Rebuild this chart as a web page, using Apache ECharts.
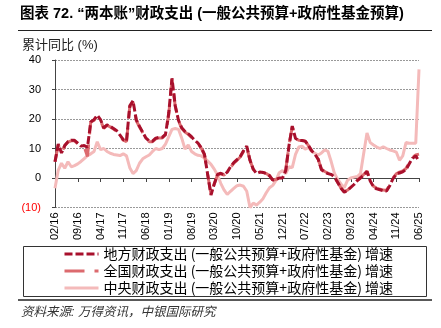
<!DOCTYPE html>
<html><head><meta charset="utf-8">
<script src="https://cdn.jsdelivr.net/npm/echarts@6/dist/echarts.min.js"></script>
<style>html,body{margin:0;padding:0;background:#fff}#c{width:441px;height:328px}</style>
</head><body><div id="c"></div>
<script>
const categories = [
 '02/16','03/16','04/16','05/16','06/16','07/16','08/16','09/16','10/16','11/16','12/16',
 '01/17','02/17','03/17','04/17','05/17','06/17','07/17','08/17','09/17','10/17','11/17','12/17',
 '01/18','02/18','03/18','04/18','05/18','06/18','07/18','08/18','09/18','10/18','11/18','12/18',
 '01/19','02/19','03/19','04/19','05/19','06/19','07/19','08/19','09/19','10/19','11/19','12/19',
 '01/20','02/20','03/20','04/20','05/20','06/20','07/20','08/20','09/20','10/20','11/20','12/20',
 '01/21','02/21','03/21','04/21','05/21','06/21','07/21','08/21','09/21','10/21','11/21','12/21',
 '01/22','02/22','03/22','04/22','05/22','06/22','07/22','08/22','09/22','10/22','11/22','12/22',
 '01/23','02/23','03/23','04/23','05/23','06/23','07/23','08/23','09/23','10/23','11/23','12/23',
 '01/24','02/24','03/24','04/24','05/24','06/24','07/24','08/24','09/24','10/24','11/24','12/24',
 '01/25','02/25','03/25','04/25','05/25','06/25'
];
const localSpend = [
 5.5, 11.5, 8.5, 11, 12.3, 12.8, 12.8, 11.8, 10.8, 11, 10.5,
 19, 19.8, 21.3, 19.8, 17, 18, 17.5, 16.8, 16, 14.5, 13, 12.5,
 24.5, 26.2, 19.8, 17.5, 15.5, 13.5, 12.5, 12.5, 13.5, 13.8, 13.8, 14.8,
 22, 33.8, 24.5, 19.5, 17, 15.8, 15, 14, 12.8, 11.8, 10.3, 8,
 1, -5.8, -2, 1.2, 1.6, 1.1, 2, 3.8, 5.2, 6.2, 7.3, 9.2,
 10.8, 6, 3, 1.5, 2, 1.9, 1.5, 0.8, -0.7, -0.5, 0, 0,
 2.5, 11, 17.6, 13.4, 12.8, 12.7, 12.5, 11, 9.2, 8, 6.3, 2.8,
 2, 1.5, 1.2, 0.3, -1.5, -3.5, -4.8, -4.2, -3.2, -2.2, -0.9, 0,
 1, 2.2, -1, -3, -3.7, -4, -4.3, -4.4, -2.6, -0.2, 1.2, 1.7,
 2.1, 2.8, 4.8, 6.7, 7.5, 5.6
];
const nationalSpend = [
 5.5, 11.3, 8.5, 11, 12.2, 12.6, 12.6, 11.6, 10.6, 10.5, 7.3,
 19, 19.5, 21, 19.5, 16.8, 17.8, 17.3, 16.6, 15.8, 14.3, 12.8, 12.3,
 24, 25.8, 19.5, 17.3, 15.3, 13.3, 12.3, 12.3, 13.3, 13.6, 13.6, 14.6,
 21.5, 33.5, 24.3, 19.3, 16.8, 15.6, 14.8, 13.8, 12.6, 11.6, 10.1, 7.8,
 1, -5.5, -2, 1, 1.4, 1, 1.8, 3.6, 5, 6, 7.1, 9,
 10.6, 6, 3, 1.5, 2, 1.9, 1.5, 0.8, -0.7, -0.5, 0, 0.2,
 2.8, 11, 17.4, 13.4, 12.8, 12.7, 12.5, 11, 9.2, 8, 6.3, 3,
 2.2, 1.6, 1.2, 0.3, -1.5, -3.4, -4.6, -4.1, -3.1, -2.1, -0.8, 0.2,
 1.2, 2.4, -0.8, -2.8, -3.5, -3.8, -4.1, -4.2, -2.4, 0, 1.4, 2,
 2.4, 3.2, 5.2, 7, 7.8, 8.1
];
const centralSpend = [
 -3.5, 2.7, 5, 3.3, 5.5, 3.8, 4.2, 4.8, 5.6, 6.6, 7.6,
 8.2, 9, 12.3, 9.6, 10, 9, 8.4, 8, 7.8, 7.6, 8.2, 7.5,
 3.5, 1.5, 2.5, 5, 6.5, 7.2, 7.8, 9, 10, 9.6, 10, 11.5,
 14, 16.5, 16.8, 16.5, 13.5, 9.8, 11.2, 9, 8.2, 7.7, 7.5, 6.8,
 5.7, 4.6, 3, 1, -1.8, -4, -5.6, -4.5, -3.5, -2.6, -2.4, -2.8,
 -4.5, -10, -8.5, -9.2, -8.2, -7, -5, -3.3, -2.5, -0.8, 1.8, 2.5,
 1.5, 3.8, 3.5, 8, 10.5, 10.8, 9.8, 10.3, 9, 8.4, 7.8, 8.5,
 9.5, 9, 5.5, 1.5, -0.5, -2, -3.3, -0.8, 0, 0.3, 0.5, 1.5,
 8.5, 15.3, 12, 11.2, 10.5, 10, 10.6, 10, 9.5, 9.2, 8.8, 6,
 7.5, 12, 11.8, 11.8, 11.8, 36.8
];
const seriesNames = [
 '地方财政支出 (一般公共预算+政府性基金) 增速',
 '全国财政支出 (一般公共预算+政府性基金) 增速',
 '中央财政支出 (一般公共预算+政府性基金) 增速'
];
const titleText = '图表 72. “两本账”财政支出 (一般公共预算+政府性基金预算)';
const yAxisTitle = '累计同比 (%)';
const sourceText = '资料来源: 万得资讯，中银国际研究';
const yMin = -10, yMax = 40, yStep = 10;

const CJK = '"Liberation Sans","Noto Sans CJK SC",sans-serif';
const chart = echarts.init(document.getElementById('c'), null, {renderer: 'canvas'});
const colors = ['#A8102C', '#DC6A6E', '#F4BABA'];
chart.setOption({
  animation: false,
  textStyle: {fontFamily: CJK},
  grid: {left: 55, right: 22, top: 60, bottom: 120.5},
  xAxis: [
    {type: 'category', data: categories, boundaryGap: false, position: 'bottom',
     axisLine: {show: false, onZero: false}, axisTick: {show: false},
     axisLabel: {interval: 6, rotate: 90, fontSize: 11, color: '#000', margin: 5, fontFamily: '"Liberation Sans"'},
     splitLine: {show: false}},
    {type: 'category', data: categories, boundaryGap: false, position: 'top',
     axisLine: {show: true, onZero: true, lineStyle: {color: '#444', width: 1}},
     axisTick: {show: true, interval: 6, inside: true, length: 4, lineStyle: {color: '#444'}},
     axisLabel: {show: false}, splitLine: {show: false}}
  ],
  yAxis: {type: 'value', min: yMin, max: yMax, interval: yStep,
    axisLine: {show: true, lineStyle: {color: '#444'}},
    axisTick: {show: true, length: 3, lineStyle: {color: '#444'}},
    axisLabel: {fontSize: 11, margin: 14, fontFamily: '"Liberation Sans"',
      color: v => (v < 0 ? '#FF0000' : '#000'),
      formatter: v => (v < 0 ? '(' + Math.abs(v) + ')' : String(v))},
    splitLine: {lineStyle: {color: '#999', type: [2, 1], width: 1}}},
  legend: {
    orient: 'vertical', left: 63, top: 247, padding: 0, itemGap: 3,
    itemWidth: 34, itemHeight: 14,
    textStyle: {fontSize: 14, color: '#000', fontFamily: '"Noto Sans CJK SC"'},
    lineStyle: {width: 3},
    itemStyle: {color: 'transparent', borderWidth: 0, opacity: 0},
    data: seriesNames
  },
  series: [
    {name: seriesNames[2], type: 'line', data: centralSpend, symbol: 'none', z: 2,
     lineStyle: {color: colors[2], width: 3}, itemStyle: {color: colors[2]}},
    {name: seriesNames[1], type: 'line', data: nationalSpend, symbol: 'none', z: 3,
     lineStyle: {color: colors[1], width: 3, type: [20, 10]}, itemStyle: {color: colors[1]}},
    {name: seriesNames[0], type: 'line', data: localSpend, symbol: 'none', z: 4,
     lineStyle: {color: colors[0], width: 3, type: [8, 3]}, itemStyle: {color: colors[0]}}
  ],
  graphic: [
    {type: 'text', left: 20, top: 7, style: {text: titleText, fontSize: 14.5, fontWeight: 'bold', fill: '#000', fontFamily: CJK}},
    {type: 'line', shape: {x1: 18, y1: 30.5, x2: 432, y2: 30.5}, style: {stroke: '#222', lineWidth: 1}},
    {type: 'text', left: 22, top: 39, style: {text: yAxisTitle, fontSize: 13, fill: '#222', fontFamily: CJK}},
    {type: 'rect', shape: {x: 23.5, y: 246.5, width: 403, height: 50}, style: {fill: 'none', stroke: '#333', lineWidth: 1}},
    {type: 'line', shape: {x1: 18, y1: 300, x2: 432, y2: 300}, style: {stroke: '#222', lineWidth: 1.5}},
    {type: 'text', left: 21, top: 306, style: {text: sourceText, fontSize: 12.5, fontStyle: 'italic', fill: '#333', fontFamily: CJK}}
  ]
});
</script></body></html>
